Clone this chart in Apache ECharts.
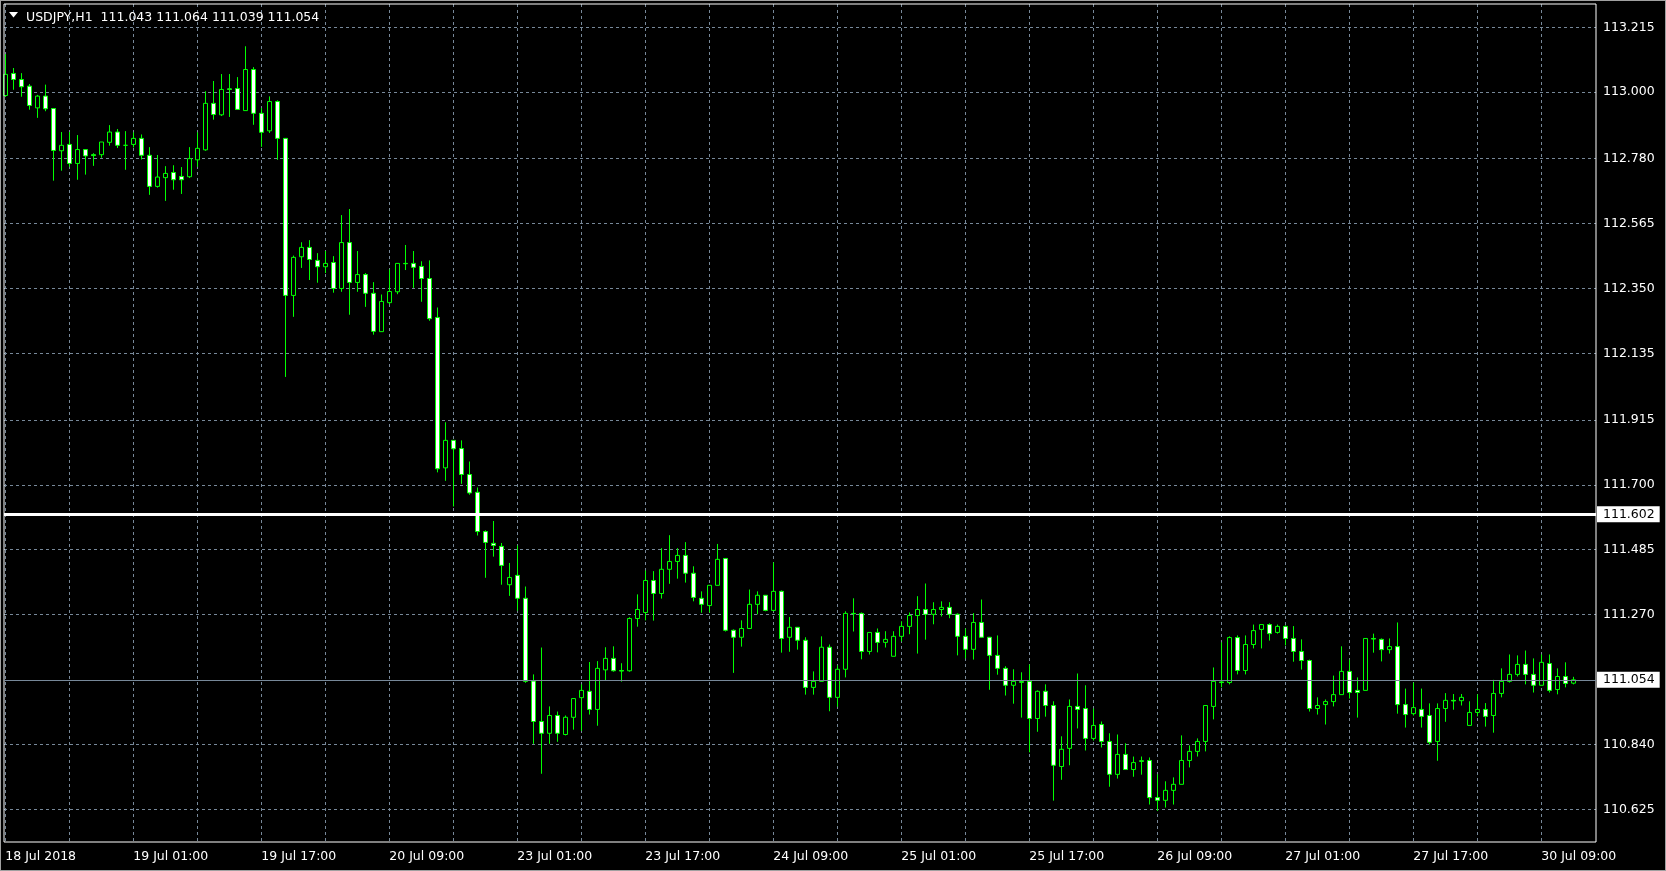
<!DOCTYPE html>
<html><head><meta charset="utf-8">
<script src="https://cdn.jsdelivr.net/npm/echarts@6/dist/echarts.min.js"></script>
<style>html,body{margin:0;padding:0;background:#000;overflow:hidden}#c{width:1666px;height:871px}</style>
</head><body><div id="c"></div>
<script>
const symbol = 'USDJPY,H1';
const days = ['18 Jul','19 Jul','20 Jul','23 Jul','24 Jul','25 Jul','26 Jul','27 Jul','30 Jul'];
const firstHour = 9, lastHour = 13;
const xTickLabels = ['18 Jul 2018','19 Jul 01:00','19 Jul 17:00','20 Jul 09:00','23 Jul 01:00','23 Jul 17:00','24 Jul 09:00','25 Jul 01:00','25 Jul 17:00','26 Jul 09:00','27 Jul 01:00','27 Jul 17:00','30 Jul 09:00'];
const yTickLabels = ['113.215','113.000','112.780','112.565','112.350','112.135','111.915','111.700','111.485','111.270','110.840','110.625'];
const hLineLevel = 111.602;

const opens = [112.989,113.062,113.042,113.020,112.948,112.987,112.946,112.806,112.827,112.764,
112.810,112.793,112.793,112.834,112.868,112.824,112.827,112.847,112.791,112.688,
112.717,112.734,112.721,112.720,112.776,112.809,112.963,112.925,113.011,113.012,
112.939,113.075,112.930,112.872,112.969,112.847,112.327,112.455,112.486,112.443,
112.422,112.436,112.350,112.502,112.370,112.396,112.334,112.207,112.303,112.339,
112.433,112.433,112.423,112.383,112.254,111.756,111.847,111.820,111.734,111.675,
111.545,111.506,111.496,111.369,111.400,111.324,111.050,110.916,110.877,110.936,
110.873,110.930,110.995,111.016,110.956,111.087,111.125,111.085,111.084,111.257,
111.277,111.383,111.340,111.420,111.446,111.466,111.407,111.324,111.300,111.367,
111.456,111.218,111.195,111.224,111.304,111.334,111.284,111.347,111.195,111.228,
111.185,111.029,111.049,111.162,110.996,111.089,111.274,111.274,111.148,111.211,
111.178,111.132,111.198,111.231,111.267,111.287,111.271,111.287,111.294,111.271,
111.198,111.155,111.244,111.195,111.135,111.092,111.036,111.048,111.049,110.926,
111.016,110.969,110.767,110.827,110.966,110.959,110.860,110.906,110.850,110.741,
110.807,110.757,110.786,110.787,110.664,110.655,110.688,110.708,110.787,110.817,
110.850,110.966,111.047,111.045,111.194,111.085,111.171,111.221,111.237,111.211,
111.231,111.191,111.148,111.118,110.959,110.972,110.982,111.005,111.082,111.019,
111.019,111.191,111.188,111.154,111.164,110.972,110.942,110.956,110.936,110.850,
110.959,110.986,110.985,110.903,110.946,110.956,110.936,111.009,111.049,111.072,
111.105,111.072,111.036,111.108,111.022,111.065,111.043];
const highs = [113.126,113.080,113.063,113.027,112.991,113.025,112.946,112.868,112.868,112.858,
112.810,112.798,112.835,112.891,112.878,112.871,112.867,112.860,112.818,112.792,
112.755,112.758,112.752,112.818,112.867,113.003,113.037,113.060,113.060,113.050,
113.152,113.083,112.947,112.986,112.973,112.847,112.459,112.503,112.510,112.467,
112.474,112.457,112.593,112.613,112.474,112.401,112.371,112.330,112.413,112.433,
112.494,112.474,112.440,112.443,112.287,111.907,111.847,111.847,111.777,111.691,
111.549,111.580,111.507,111.441,111.499,111.363,111.072,111.161,110.966,110.949,
110.936,110.992,111.039,111.113,111.116,111.162,111.165,111.109,111.261,111.337,
111.416,111.414,111.490,111.533,111.490,111.510,111.430,111.347,111.367,111.504,
111.456,111.221,111.251,111.353,111.347,111.334,111.443,111.350,111.262,111.228,
111.195,111.082,111.198,111.171,111.102,111.281,111.324,111.277,111.211,111.224,
111.215,111.215,111.248,111.277,111.331,111.373,111.311,111.314,111.311,111.274,
111.224,111.275,111.320,111.195,111.201,111.099,111.089,111.079,111.105,111.019,
111.039,110.983,110.867,110.989,111.075,111.036,110.959,110.916,110.877,110.873,
110.844,110.800,110.800,110.797,110.741,110.718,110.731,110.870,110.837,110.860,
110.969,111.095,111.178,111.198,111.201,111.201,111.237,111.237,111.241,111.237,
111.234,111.232,111.188,111.121,110.996,110.989,111.068,111.165,111.121,111.062,
111.191,111.207,111.191,111.191,111.244,111.025,111.045,111.025,110.976,110.976,
111.010,111.007,111.007,110.983,111.006,110.977,111.054,111.092,111.138,111.135,
111.151,111.125,111.138,111.138,111.092,111.112,111.064];
const lows = [112.985,113.008,112.985,112.942,112.915,112.937,112.707,112.740,112.753,112.710,
112.727,112.756,112.783,112.823,112.815,112.743,112.817,112.777,112.660,112.684,
112.640,112.677,112.663,112.716,112.753,112.806,112.909,112.921,112.918,112.942,
112.939,112.892,112.819,112.865,112.776,112.057,112.256,112.418,112.378,112.369,
112.401,112.336,112.339,112.263,112.339,112.289,112.197,112.207,112.298,112.331,
112.411,112.352,112.306,112.243,111.741,111.713,111.628,111.703,111.667,111.532,
111.392,111.462,111.369,111.332,111.283,111.044,110.842,110.743,110.842,110.849,
110.870,110.889,110.885,110.939,110.902,111.051,111.081,111.048,111.081,111.230,
111.251,111.250,111.323,111.372,111.389,111.376,111.314,111.276,111.277,111.367,
111.214,111.077,111.164,111.224,111.271,111.281,111.281,111.144,111.147,111.154,
111.005,111.005,111.049,110.950,110.965,111.062,111.214,111.122,111.138,111.145,
111.161,111.132,111.181,111.205,111.141,111.187,111.238,111.264,111.258,111.135,
111.125,111.121,111.193,111.021,111.071,111.002,110.975,110.929,110.814,110.882,
110.932,110.654,110.723,110.771,110.893,110.820,110.853,110.830,110.700,110.727,
110.757,110.733,110.740,110.641,110.620,110.631,110.641,110.708,110.764,110.800,
110.817,110.923,111.029,111.039,111.072,111.072,111.158,111.158,111.184,111.207,
111.168,111.114,111.088,110.949,110.939,110.906,110.966,111.005,110.992,110.929,
111.019,111.144,111.115,111.141,110.942,110.896,110.936,110.896,110.840,110.786,
110.915,110.955,110.969,110.903,110.933,110.899,110.879,110.996,111.045,111.065,
111.039,111.012,111.036,111.012,111.006,111.029,111.039];
const closes = [113.059,113.042,113.018,112.956,112.987,112.945,112.807,112.824,112.764,112.810,
112.789,112.790,112.835,112.868,112.824,112.824,112.847,112.791,112.688,112.719,
112.731,112.710,112.710,112.780,112.814,112.963,112.926,113.009,113.009,112.943,
113.075,112.930,112.867,112.969,112.847,112.327,112.453,112.486,112.446,112.422,
112.433,112.350,112.502,112.370,112.396,112.334,112.208,112.307,112.340,112.433,
112.432,112.420,112.383,112.250,111.753,111.847,111.819,111.734,111.673,111.545,
111.509,111.499,111.433,111.393,111.324,111.049,110.916,110.877,110.936,110.877,
110.930,110.992,111.019,110.956,111.092,111.125,111.084,111.083,111.257,111.287,
111.383,111.340,111.420,111.446,111.466,111.407,111.327,111.304,111.367,111.453,
111.218,111.195,111.224,111.304,111.334,111.284,111.347,111.191,111.228,111.185,
111.029,111.049,111.162,110.996,111.089,111.274,111.273,111.148,111.211,111.178,
111.188,111.198,111.231,111.267,111.287,111.271,111.287,111.294,111.271,111.198,
111.155,111.244,111.195,111.135,111.092,111.036,111.049,111.046,110.926,111.016,
110.969,110.771,110.824,110.966,110.956,110.860,110.903,110.850,110.741,110.807,
110.757,110.780,110.784,110.664,110.655,110.688,110.708,110.787,110.817,110.850,
110.969,111.049,111.045,111.194,111.085,111.171,111.217,111.237,111.207,111.231,
111.191,111.148,111.118,110.959,110.969,110.982,111.005,111.082,111.012,111.012,
111.191,111.189,111.154,111.164,110.972,110.939,110.962,110.933,110.847,110.959,
110.986,110.984,110.996,110.946,110.956,110.933,111.009,111.049,111.072,111.105,
111.072,111.036,111.112,111.019,111.065,111.042,111.054];

// categories (hourly bars)
const categories = [];
days.forEach((d, di) => {
  const h0 = di === 0 ? firstHour : 0;
  const h1 = di === days.length - 1 ? lastHour : 23;
  for (let h = h0; h <= h1; h++) categories.push(d + ' ' + String(h).padStart(2, '0') + ':00');
});
categories.push(' ', '  ');
const candleData = opens.map((o, i) => [o, closes[i], lows[i], highs[i]]);
const last = opens.length - 1;
const titleText = symbol + '  ' + [opens[last], highs[last], lows[last], closes[last]].map(v => v.toFixed(3)).join(' ');

const FONT = 'DejaVu Sans';
const GRID_COLOR = '#778899';
const yMin = 110.517, yMax = 113.292;
const nCat = categories.length;

const chart = echarts.init(document.getElementById('c'), null, {renderer: 'canvas', devicePixelRatio: 1});
const boxLabel = {
  show: true, position: 'end', distance: 1,
  formatter: p => Number(p.value).toFixed(3),
  backgroundColor: '#ffffff', color: '#000000',
  fontFamily: FONT, fontSize: 12.5, lineHeight: 13,
  padding: [2, 5, 1, 6]
};
chart.setOption({
  backgroundColor: '#000000',
  animation: false,
  grid: [
    {left: 4, top: 4, right: 70, bottom: 29, show: true, borderColor: '#ffffff', borderWidth: 1, backgroundColor: 'transparent', z: 5},
    {left: 5.3, top: 4, width: 8 * (nCat - 1), bottom: 29}
  ],
  xAxis: [
    {gridIndex: 0, type: 'value', min: 0, max: 1, show: false},
    {gridIndex: 1, type: 'category', data: categories, boundaryGap: false,
     axisLine: {show: false}, axisTick: {show: false},
     axisLabel: {interval: 15, align: 'left', color: '#ffffff', fontFamily: FONT, fontSize: 12.5, margin: 8,
       formatter: (v, idx) => (idx % 16 === 0 && xTickLabels[idx / 16]) ? xTickLabels[idx / 16] : ''},
     splitLine: {show: true, interval: 7, lineStyle: {color: GRID_COLOR, width: 1, type: [3, 3]}}}
  ],
  yAxis: [
    {gridIndex: 0, type: 'value', position: 'right', min: yMin, max: yMax,
     axisLine: {show: false},
     axisTick: {show: false, customValues: yTickLabels.map(Number)},
     axisLabel: {customValues: yTickLabels.map(Number), color: '#ffffff', fontFamily: FONT, fontSize: 12.5, margin: 7,
       formatter: v => v.toFixed(3)},
     splitLine: {show: true, lineStyle: {color: GRID_COLOR, width: 1, type: [3, 3]}}},
    {gridIndex: 1, type: 'value', min: yMin, max: yMax, show: false, splitLine: {show: false}}
  ],
  graphic: [
    {type: 'polygon', shape: {points: [[9, 12], [18, 12], [13.5, 17.5]]}, style: {fill: '#ffffff'}, z: 10},
    {type: 'text', left: 26, top: 11, style: {text: titleText, fill: '#ffffff', font: '12.5px "DejaVu Sans"'}, z: 10},
    {type: 'rect', shape: {x: 0, y: 0, width: 1666, height: 871}, style: {fill: 'none', stroke: '#a0a0a0', lineWidth: 2}, z: 10, silent: true}
  ],
  series: [
    {type: 'candlestick', xAxisIndex: 1, yAxisIndex: 1, data: candleData, barWidth: 4, clip: false, silent: true, z: 2,
     itemStyle: {color: '#000000', color0: '#ffffff', borderColor: '#00ff00', borderColor0: '#00ff00', borderColorDoji: '#00ff00', borderWidth: 1}},
    {type: 'line', xAxisIndex: 0, yAxisIndex: 0, data: [[0, closes[last]]], showSymbol: false, symbolSize: 0, lineStyle: {opacity: 0}, silent: true, z: 4,
     markLine: {silent: true, symbol: ['none', 'none'], animation: false, precision: 3,
       data: [
         {yAxis: hLineLevel, lineStyle: {color: '#ffffff', width: 3, type: 'solid'}, label: boxLabel},
         {yAxis: closes[last], lineStyle: {color: GRID_COLOR, width: 1, type: 'solid'}, label: boxLabel}
       ]}}
  ]
});
</script></body></html>
